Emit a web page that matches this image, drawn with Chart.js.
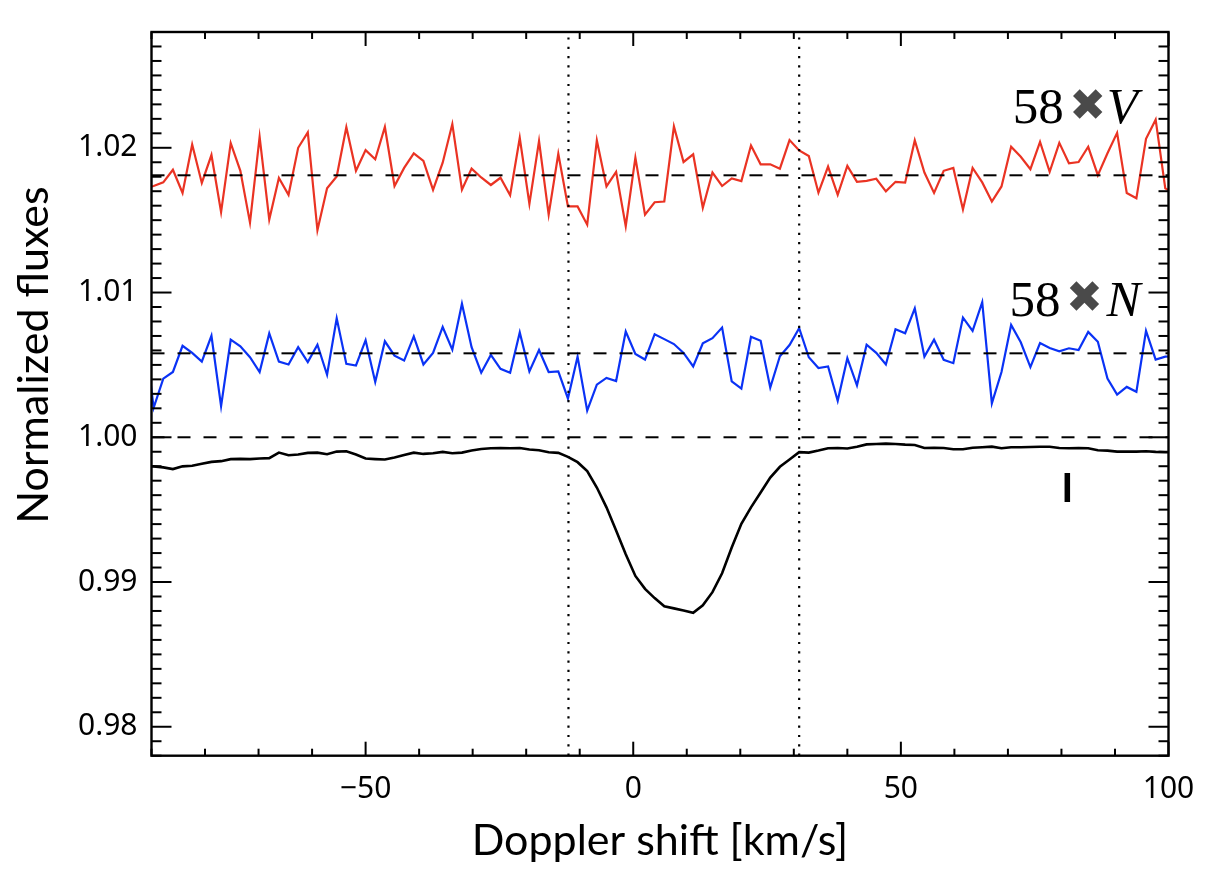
<!DOCTYPE html>
<html>
<head>
<meta charset="utf-8">
<script src="https://cdn.jsdelivr.net/npm/chart.js@4.4.1/dist/chart.umd.min.js"></script>
<style>
html,body{margin:0;padding:0;background:#fff;}
#wrap{width:1230px;height:882px;position:relative;}
</style>
</head>
<body>
<div id="wrap"><canvas id="c" width="1230" height="882"></canvas></div>
<script>
// Doppler velocity grid [km/s]
const velocities = [-91.4,-89.6,-87.8,-86.0,-84.2,-82.4,-80.6,-78.8,-77.0,-75.2,-73.4,-71.6,-69.8,-68.0,-66.2,-64.4,-62.6,-60.8,-59.0,-57.2,-55.4,-53.6,-51.8,-50.0,-48.2,-46.4,-44.6,-42.8,-41.0,-39.2,-37.4,-35.6,-33.8,-32.0,-30.2,-28.4,-26.6,-24.8,-23.0,-21.2,-19.4,-17.6,-15.8,-14.0,-12.2,-10.4,-8.6,-6.8,-5.0,-3.2,-1.4,0.4,2.2,4.0,5.8,7.6,9.4,11.2,13.0,14.8,16.6,18.4,20.2,22.0,23.8,25.6,27.4,29.2,31.0,32.8,34.6,36.4,38.2,40.0,41.8,43.6,45.4,47.2,49.0,50.8,52.6,54.4,56.2,58.0,59.8,61.6,63.4,65.2,67.0,68.8,70.6,72.4,74.2,76.0,77.8,79.6,81.4,83.2,85.0,86.8,88.6,90.4,92.2,94.0,95.8,97.6,99.4,101.2];

// Stokes V (scaled x58, shifted)
const stokesV = [1.0172,1.01736,1.01761,1.01848,1.01688,1.02023,1.01757,1.0195,1.01556,1.02032,1.01841,1.01483,1.02075,1.01504,1.01791,1.01675,1.0200,1.02107,1.0143,1.0172,1.01802,1.02142,1.01841,1.01984,1.01921,1.02144,1.01736,1.01861,1.01962,1.01909,1.01709,1.01897,1.02164,1.01711,1.01856,1.01795,1.01743,1.01793,1.01672,1.02068,1.01613,1.02046,1.01538,1.01959,1.01595,1.01595,1.01469,1.02051,1.01733,1.01834,1.01458,1.01932,1.01538,1.01624,1.01629,1.02148,1.01902,1.01955,1.01586,1.01829,1.01736,1.01788,1.0177,1.02016,1.01886,1.01886,1.01856,1.02053,1.01982,1.01943,1.0169,1.0187,1.01675,1.01875,1.01765,1.01772,1.01786,1.01699,1.01765,1.01759,1.02051,1.01829,1.01688,1.01841,1.01861,1.01574,1.01861,1.01761,1.01629,1.01733,1.02007,1.01938,1.01852,1.02041,1.01834,1.02034,1.01893,1.01902,1.02007,1.01811,1.01962,1.02103,1.01688,1.01651,1.02062,1.02194,1.0172,1.0168];

// Null profile N (scaled x58, shifted)
const nullN = [1.0075,1.00204,1.00405,1.00451,1.00632,1.00583,1.00523,1.00701,1.00215,1.00674,1.00628,1.00553,1.00451,1.00717,1.00523,1.00503,1.00622,1.00519,1.00639,1.00432,1.00822,1.00507,1.00496,1.00671,1.00382,1.00663,1.00564,1.0053,1.00697,1.00503,1.00583,1.00762,1.00605,1.00922,1.00622,1.00446,1.00569,1.00473,1.00446,1.00724,1.00455,1.00603,1.00451,1.00455,1.00268,1.00557,1.00184,1.00364,1.0041,1.00389,1.00731,1.00576,1.00537,1.00712,1.00678,1.00644,1.00583,1.00489,1.00649,1.00685,1.00758,1.00386,1.00336,1.00694,1.00667,1.00343,1.0056,1.00637,1.00754,1.00553,1.00478,1.00489,1.00252,1.00546,1.00359,1.00639,1.00583,1.00503,1.00747,1.00719,1.0089,1.00557,1.00674,1.00535,1.00512,1.00827,1.00735,1.00933,1.00234,1.00451,1.00776,1.00656,1.00485,1.00651,1.00617,1.00594,1.00615,1.00603,1.00728,1.0066,1.00405,1.00295,1.00348,1.00314,1.00735,1.00537,1.00557,1.0056];

// Stokes I
const stokesI = [0.9980,0.99799,0.99792,0.9978,0.99799,0.99803,0.99817,0.9983,0.99835,0.99849,0.99851,0.99849,0.99853,0.99856,0.99894,0.99876,0.99881,0.99892,0.99894,0.99883,0.99901,0.99903,0.99881,0.99853,0.99849,0.99846,0.9986,0.99878,0.99894,0.99885,0.9989,0.99899,0.9989,0.99894,0.99908,0.99919,0.99924,0.99926,0.99924,0.99926,0.99915,0.9991,0.99897,0.99892,0.99865,0.99828,0.99767,0.99653,0.99516,0.99356,0.99192,0.99042,0.98953,0.98889,0.98832,0.98818,0.98803,0.98787,0.98839,0.9893,0.9906,0.99238,0.99402,0.99516,0.99618,0.99721,0.99796,0.99846,0.99897,0.99894,0.99908,0.99924,0.99926,0.99922,0.99935,0.99951,0.99954,0.99956,0.99954,0.99949,0.99947,0.99926,0.99928,0.99926,0.99917,0.99917,0.99928,0.99931,0.99935,0.99924,0.99931,0.99931,0.99933,0.99935,0.99935,0.99926,0.99924,0.99926,0.99924,0.9991,0.99908,0.99901,0.99901,0.99901,0.99903,0.99899,0.99897,0.99897];

const refLevels = [1.0181, 1.0058, 1.0000];   // dashed reference levels
const lineLimits = [-12.1, 31.0];             // dotted integration limits
const xTickValues = [-50, 0, 50, 100];
const yTickValues = [0.98, 0.99, 1.00, 1.01, 1.02];
const xRange = [-90, 100];
const yRange = [0.978, 1.028];
const labelFactor = '58';
const labelSymbol = '\u2716';
const labelLetters = ['V', 'N'];
const intensityLabel = 'I';
const xTitle = 'Doppler shift [km/s]';
const yTitle = 'Normalized fluxes';

const toPoints = arr => velocities.map((v, i) => ({x: v, y: arr[i]}));

const refSets = refLevels.map(l => ({
  data: [{x: xRange[0], y: l}, {x: xRange[1], y: l}],
  borderColor: '#000', borderWidth: 2, borderDash: [13, 13], pointRadius: 0, fill: false
}));
const limSets = lineLimits.map(v => ({
  data: [{x: v, y: yRange[0]}, {x: v, y: yRange[1]}],
  borderColor: '#000', borderWidth: 2.2, borderDash: [2.2, 7.1], pointRadius: 0, fill: false
}));

const frameTicks = {
  id: 'frameTicks',
  afterDraw(chart) {
    const {ctx, chartArea: a, scales: {x, y}} = chart;
    ctx.save();
    ctx.strokeStyle = '#000';
    ctx.lineCap = 'butt';
    ctx.lineWidth = 2;
    const seg = (x1, y1, x2, y2) => { ctx.beginPath(); ctx.moveTo(x1, y1); ctx.lineTo(x2, y2); ctx.stroke(); };
    for (let v = -90; v <= 100; v += 10) {
      const px = x.getPixelForValue(v);
      const L = (v % 50 === 0) ? 14 : 7;
      seg(px, a.bottom, px, a.bottom - L);
      seg(px, a.top, px, a.top + L);
    }
    for (let i = 978; i <= 1028; i++) {
      const py = y.getPixelForValue(i / 1000);
      const L = (i % 10 === 0) ? 20 : 10;
      seg(a.left, py, a.left + L, py);
      seg(a.right, py, a.right - L, py);
    }
    ctx.lineWidth = 2.4;
    ctx.strokeRect(a.left, a.top, a.right - a.left, a.bottom - a.top);
    // y-axis title
    ctx.translate(34, 355);
    ctx.rotate(-Math.PI / 2);
    ctx.fillStyle = '#000';
    ctx.font = '43px Lato';
    ctx.textAlign = 'center';
    ctx.textBaseline = 'middle';
    ctx.fillText(yTitle, 0, 0);
    ctx.restore();
  }
};

const labelsPlugin = {
  id: 'labelsPlugin',
  afterDatasetsDraw(chart) {
    const {ctx, scales: {x, y}} = chart;
    const spots = [{xv: 70.9, yv: 1.0217}, {xv: 70.3, yv: 1.00838}];
    const letterOffsets = [94, 97];
    ctx.save();
    labelLetters.forEach((letter, i) => {
      const L = x.getPixelForValue(spots[i].xv);
      const B = y.getPixelForValue(spots[i].yv);
      ctx.textBaseline = 'alphabetic';
      ctx.textAlign = 'left';
      ctx.fillStyle = '#000';
      ctx.font = '51px "Liberation Serif"';
      ctx.fillText(labelFactor, L, B);
      ctx.fillStyle = '#4a4a4a';
      ctx.font = 'bold 44px "DejaVu Sans"';
      ctx.textAlign = 'center';
      ctx.textBaseline = 'middle';
      ctx.fillText(labelSymbol, L + 75, B - 15);
      ctx.fillStyle = '#000';
      ctx.textAlign = 'left';
      ctx.textBaseline = 'alphabetic';
      ctx.font = 'italic 51px "Liberation Serif"';
      ctx.fillText(letter, L + letterOffsets[i], B);
    });
    ctx.fillStyle = '#000';
    ctx.font = 'bold 41px Lato';
    ctx.textAlign = 'center';
    ctx.textBaseline = 'alphabetic';
    ctx.fillText(intensityLabel, x.getPixelForValue(81.1), y.getPixelForValue(0.9955));
    ctx.restore();
  }
};

const tickFont = {family: '"Noto Sans"', size: 30};
const titleFont = {family: 'Lato', size: 43};

new Chart(document.getElementById('c'), {
  type: 'line',
  data: {
    datasets: [
      ...refSets,
      ...limSets,
      {data: toPoints(stokesV), borderColor: '#ea3323', borderWidth: 2.2, pointRadius: 0, tension: 0, fill: false},
      {data: toPoints(nullN), borderColor: '#0a32f5', borderWidth: 2.2, pointRadius: 0, tension: 0, fill: false},
      {data: toPoints(stokesI), borderColor: '#000', borderWidth: 2.6, pointRadius: 0, tension: 0, fill: false}
    ]
  },
  options: {
    responsive: false,
    animation: false,
    devicePixelRatio: 1,
    layout: {padding: {left: 0, top: 25, right: 61.5, bottom: 0}},
    plugins: {legend: {display: false}, tooltip: {enabled: false}},
    scales: {
      x: {
        type: 'linear', min: xRange[0], max: xRange[1],
        afterBuildTicks: s => { s.ticks = xTickValues.map(v => ({value: v})); },
        afterFit: s => { s.height = 126.3; },
        grid: {display: false, drawTicks: false},
        border: {display: false},
        ticks: {
          font: tickFont, color: '#000', padding: 16, autoSkip: false, maxRotation: 0,
          callback: v => v < 0 ? '\u2212' + Math.abs(v) : String(v)
        },
        title: {display: true, text: xTitle, font: titleFont, color: '#000', padding: {top: 0, bottom: 15}}
      },
      y: {
        type: 'linear', min: yRange[0], max: yRange[1],
        afterBuildTicks: s => { s.ticks = yTickValues.map(v => ({value: v})); },
        afterFit: s => { s.width = 151.5; },
        grid: {display: false, drawTicks: false},
        border: {display: false},
        ticks: {
          font: tickFont, color: '#000', padding: 14, autoSkip: false,
          callback: v => Number(v).toFixed(2)
        },
        title: {display: false, text: yTitle}
      }
    }
  },
  plugins: [frameTicks, labelsPlugin]
});
</script>
</body>
</html>
